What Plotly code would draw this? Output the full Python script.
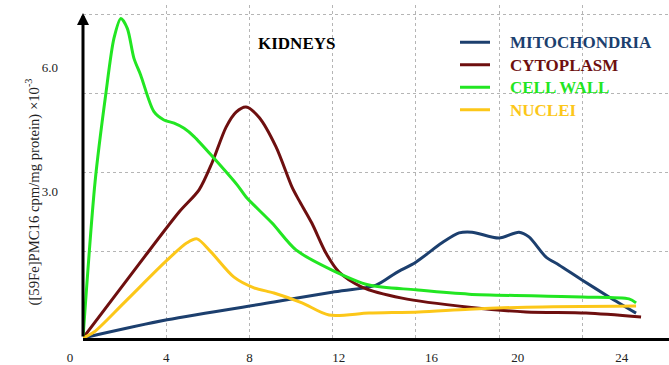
import plotly.graph_objects as go

# ---------------- data ----------------
series_names = ["MITOCHONDRIA", "CYTOPLASM", "CELL WALL", "NUCLEI"]
series_colors = ["#1c3f6e", "#6e0f0f", "#22e622", "#fcc719"]

mito_x = [0, 4.04, 9.18, 11.97, 14.09, 15.05, 16.0, 17.26, 18.08, 18.7, 20.0, 20.96, 21.44, 22.26, 22.88, 23.99, 25.29, 26.59]
mito_y = [0, 0.46, 0.91, 1.16, 1.34, 1.65, 1.92, 2.41, 2.66, 2.68, 2.53, 2.68, 2.56, 2.05, 1.85, 1.47, 1.04, 0.63]

cyto_x = [0, 2.69, 4.62, 5.58, 6.2, 6.88, 7.36, 7.84, 8.46, 9.28, 10.05, 10.38, 11.0, 11.68, 12.31, 13.41, 15.34, 18.56, 21.3, 24.18, 26.83]
cyto_y = [0, 1.87, 3.19, 3.75, 4.43, 5.34, 5.72, 5.85, 5.59, 4.84, 3.82, 3.49, 2.91, 2.15, 1.67, 1.29, 1.01, 0.78, 0.66, 0.63, 0.53]

cell_x = [0, 0.58, 1.09, 1.49, 1.82, 2.13, 2.45, 2.77, 3.41, 3.89, 4.38, 4.86, 5.34, 6.30, 7.42, 7.84, 9.09, 10.24, 11.97, 13.75, 16.0, 18.56, 23.99, 26.25, 26.59]
cell_y = [0, 3.95, 6.15, 7.59, 8.09, 7.84, 7.08, 6.66, 5.73, 5.52, 5.44, 5.31, 5.10, 4.55, 3.87, 3.57, 2.91, 2.23, 1.72, 1.34, 1.22, 1.11, 1.04, 0.99, 0.89]

nuc_x = [0, 0.53, 1.97, 4.04, 5.0, 5.48, 6.15, 7.26, 8.22, 9.18, 10.53, 11.83, 13.75, 16.15, 18.56, 21.3, 26.59]
nuc_y = [0, 0.15, 0.89, 1.97, 2.41, 2.51, 2.18, 1.54, 1.27, 1.14, 0.89, 0.58, 0.63, 0.66, 0.73, 0.78, 0.81]

x_grid = [4, 8, 12, 16, 20, 24]
y_grid = [2.2, 4.2, 6.2, 8.18]
x_tick_pos = [-0.63, 4.0, 8.0, 12.3, 16.75, 20.9, 25.9]
x_tick_labels = ["0", "4", "8", "12", "16", "20", "24"]
y_tick_pos = [6.86, 3.70]
y_tick_labels = ["6.0", "3.0"]

title_text = "KIDNEYS"
y_title = "([59Fe]PMC16 cpm/mg protein) ×10<sup>-3</sup>"

# ---------------- geometry ----------------
W, H = 669, 365
ML, MR, MT, MB = 40, 0, 5, 27
axis_px = 83
px_per_x = 20.8
px_per_y = 39.5
plot_w = W - ML - MR
plot_h = H - MT - MB
dom0 = (axis_px - ML) / plot_w
x_max = (W - axis_px) / px_per_x
x2_min = -(axis_px - ML) / px_per_x
y_max = plot_h / px_per_y

SERIF = "Liberation Serif"

fig = go.Figure()
all_x = [mito_x, cyto_x, cell_x, nuc_x]
all_y = [mito_y, cyto_y, cell_y, nuc_y]
for n, c, xs, ys in zip(series_names, series_colors, all_x, all_y):
    fig.add_trace(go.Scatter(
        x=xs, y=ys, mode="lines",
        name="\u00a0\u00a0\u00a0\u00a0<span style='color:%s;font-size:17px;font-weight:bold'>%s</span>" % (c, n),
        line=dict(color=c, width=3, shape="spline", smoothing=0.8),
        hoverinfo="skip",
    ))

# invisible trace carrying the label axes
fig.add_trace(go.Scatter(x=[None], y=[None], xaxis="x2", yaxis="y2",
                         showlegend=False, hoverinfo="skip"))

grid_style = dict(showgrid=True, gridcolor="#b5b5b5", griddash="dot", gridwidth=1)

fig.update_layout(
    width=W, height=H,
    margin=dict(l=ML, r=MR, t=MT, b=MB, autoexpand=False),
    paper_bgcolor="white", plot_bgcolor="rgba(0,0,0,0)",
    showlegend=True,
    legend=dict(x=(455 - ML) / plot_w, y=(338 - 26) / plot_h, xanchor="left", yanchor="top",
                font=dict(family=SERIF, size=15), bgcolor="rgba(0,0,0,0)",
                itemwidth=30),
    xaxis=dict(domain=[dom0, 1], range=[0, x_max], tickvals=x_grid, showticklabels=False,
               ticks="", zeroline=False, showline=True, linecolor="black", linewidth=3,
               **grid_style),
    yaxis=dict(range=[0, y_max], tickvals=y_grid, showticklabels=False, ticks="",
               zeroline=False, showline=False, **grid_style),
    xaxis2=dict(domain=[0, 1], range=[x2_min, x_max], anchor="y2", tickvals=x_tick_pos,
                ticktext=x_tick_labels, showgrid=False, zeroline=False, showline=False,
                ticks="", ticklabelstandoff=10,
                tickfont=dict(family=SERIF, size=13, color="#222")),
    yaxis2=dict(domain=[0, 1], range=[0, y_max], anchor="free", position=dom0,
                tickvals=y_tick_pos, ticktext=y_tick_labels, showgrid=False,
                zeroline=False, showline=False, ticks="", ticklabelstandoff=25,
                tickfont=dict(family=SERIF, size=13, color="#222")),
)

# y axis drawn as an arrow
fig.add_annotation(x=0, y=(338 - 13) / px_per_y, ax=0, ay=0, xref="x", yref="y",
                   axref="x", ayref="y", text="", showarrow=True, arrowhead=2,
                   arrowsize=0.8, arrowwidth=3, arrowcolor="black")

# y-axis title
fig.add_annotation(x=(21 - ML) / plot_w, y=(338 - 192) / px_per_y, xref="paper", yref="y",
                   text=y_title, textangle=-90, showarrow=False,
                   font=dict(family=SERIF, size=14.7, color="#222"))

fig.add_annotation(x=(296 - axis_px) / px_per_x, y=(338 - 43) / px_per_y, xref="x", yref="y",
                   text="<b>" + title_text + "</b>", showarrow=False,
                   font=dict(family=SERIF, size=17, color="black"))

fig.write_html("out.html")
